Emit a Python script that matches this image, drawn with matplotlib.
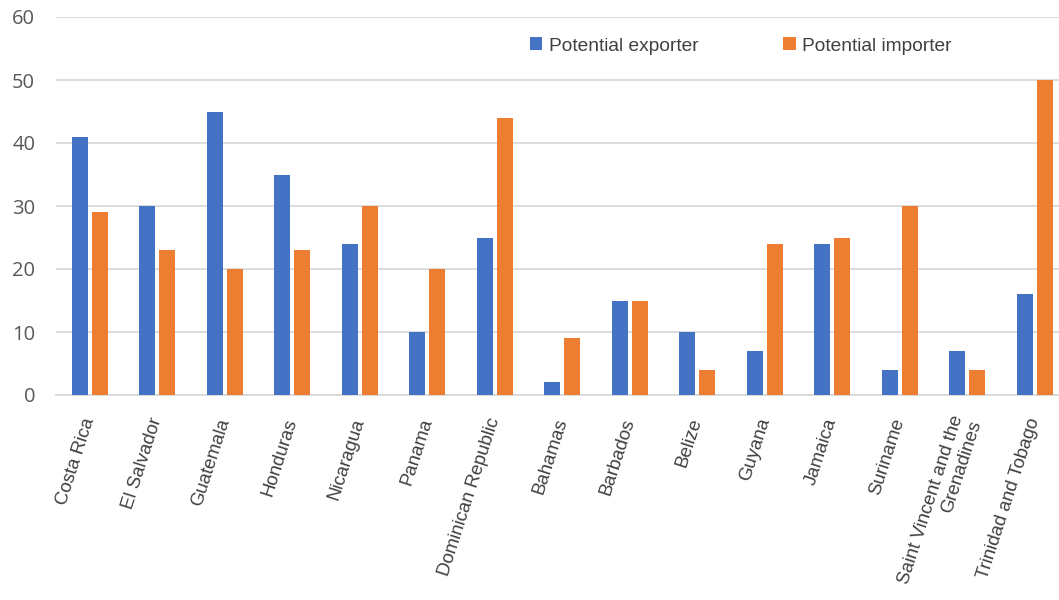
#!/usr/bin/env python3
"""Potential exporters vs importers by country, grouped bar chart."""

import matplotlib

matplotlib.use("Agg")
import matplotlib.pyplot as plt
import numpy as np

countries = [
    "Costa Rica", "El Salvador", "Guatemala", "Honduras", "Nicaragua",
    "Panama", "Dominican Republic", "Bahamas", "Barbados", "Belize",
    "Guyana", "Jamaica", "Suriname", "Saint Vincent and the\nGrenadines",
    "Trinidad and Tobago",
]
exporter = [41, 30, 45, 35, 24, 10, 25, 2, 15, 10, 7, 24, 4, 7, 16]
importer = [29, 23, 20, 23, 30, 20, 44, 9, 15, 4, 24, 25, 30, 4, 50]
y_ticks = [0, 10, 20, 30, 40, 50, 60]

BLUE = "#4472C4"
ORANGE = "#ED7D31"
GRID = "#D9D9D9"

fig = plt.figure(figsize=(10.59, 6.0), dpi=100)
ax = fig.add_axes([56 / 1059, 205 / 600, 1003 / 1059, 378 / 600])

x = np.arange(len(countries))
width = 0.237
offset = 0.148
ax.bar(x - offset, exporter, width, color=BLUE, label="Potential exporter", zorder=3)
ax.bar(x + offset, importer, width, color=ORANGE, label="Potential importer", zorder=3)

ax.set_xlim(-0.5, 14.36)
ax.set_ylim(0, 60)
ax.set_yticks(y_ticks)
ax.set_yticklabels([str(v) for v in y_ticks], fontfamily="Open Sans",
                   fontsize=14.5, color="#595959")
ax.yaxis.grid(True, color=GRID, linewidth=1.3, zorder=0)
ax.tick_params(axis="y", length=0, pad=15)

ax.set_xticks(x)
ax.set_xticklabels(countries, rotation=72, ha="right", va="center",
                   rotation_mode="anchor", multialignment="right",
                   fontfamily="Liberation Sans", fontsize=13.4, color="#404040")
ax.tick_params(axis="x", length=0, pad=17)

for side in ("top", "right", "left"):
    ax.spines[side].set_visible(False)
ax.spines["bottom"].set_color(GRID)
ax.spines["bottom"].set_linewidth(1.3)

fig.legend(
    loc="center left",
    bbox_to_anchor=(530 / 1059, 1 - 46 / 600),
    ncol=2,
    frameon=False,
    prop={"family": "Liberation Sans", "size": 13.8},
    labelcolor="#404040",
    handlelength=0.65,
    handleheight=0.65,
    handletextpad=0.35,
    columnspacing=4.4,
    borderpad=0,
    borderaxespad=0,
)

fig.savefig("out.png", dpi=100)
